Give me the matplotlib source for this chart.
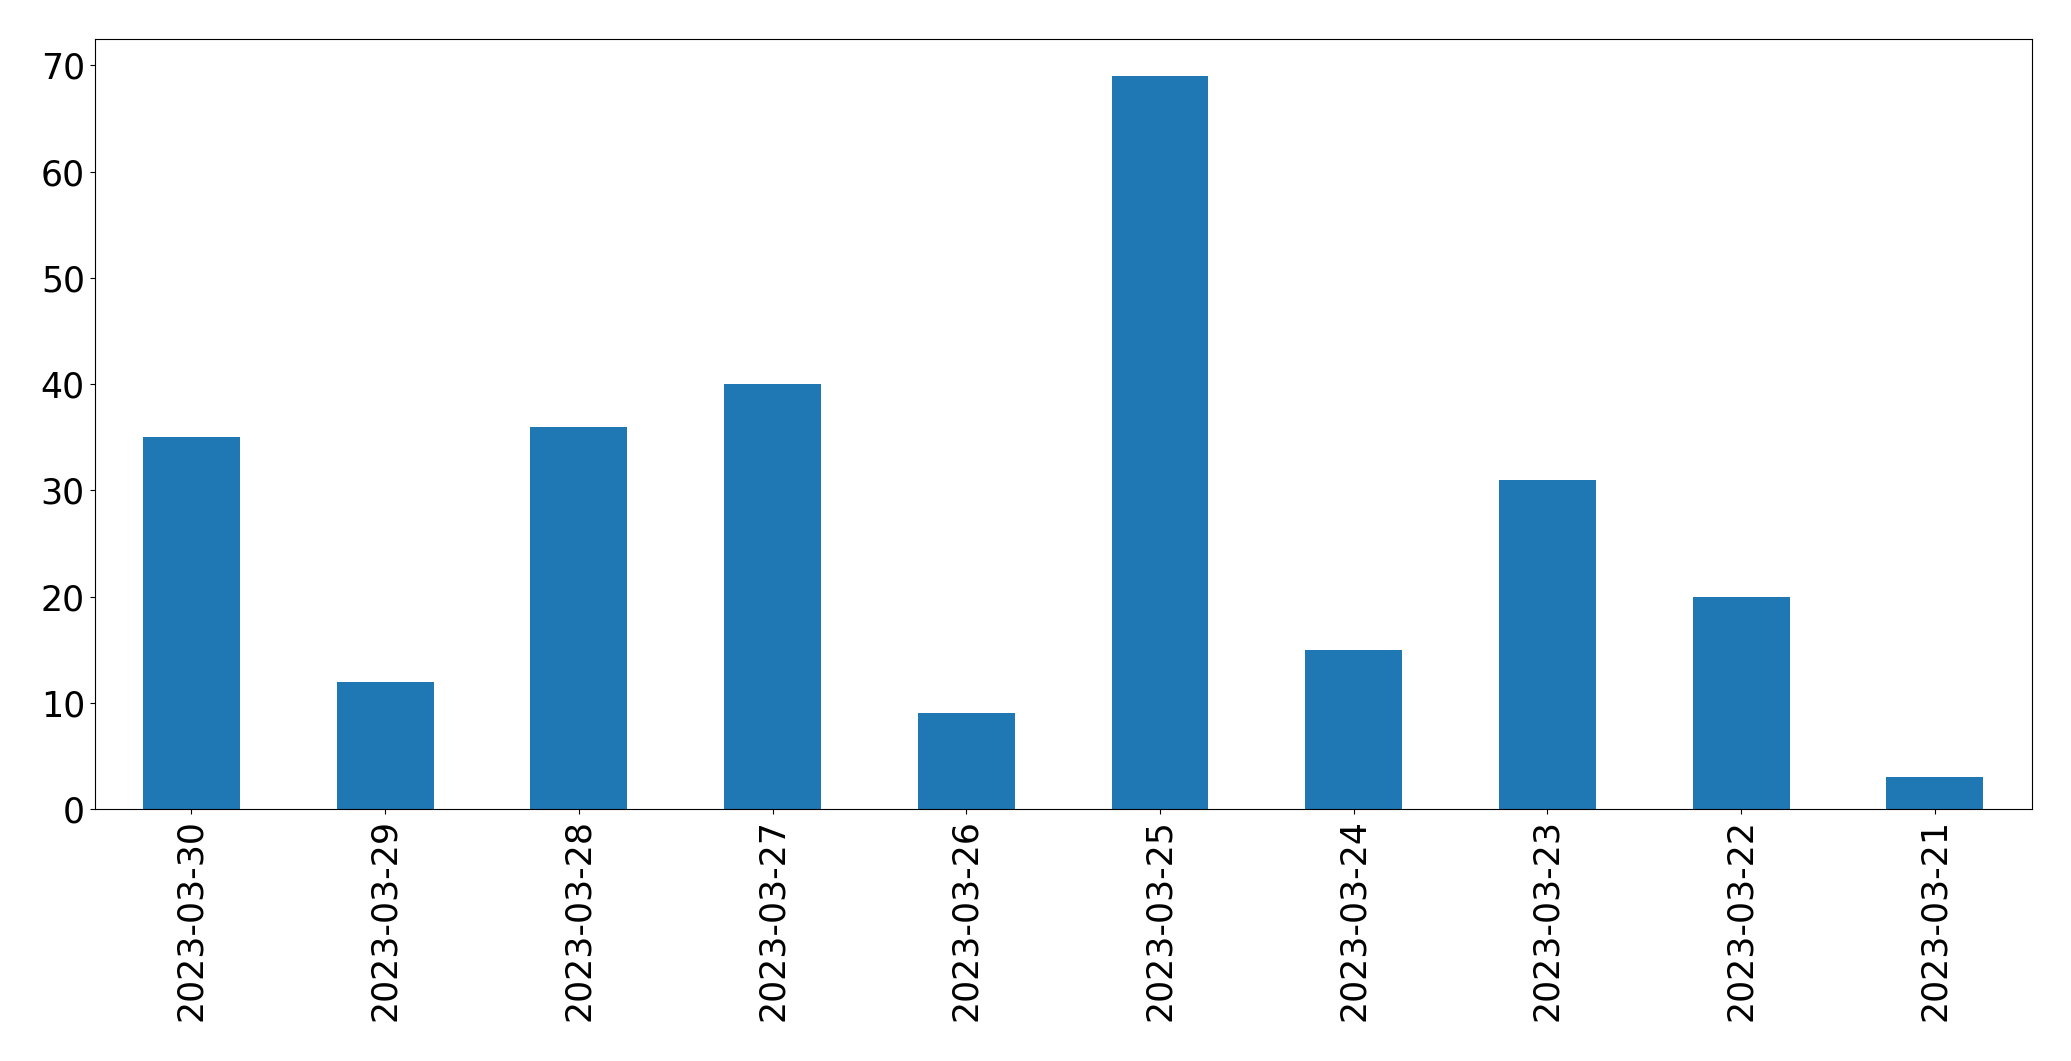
import matplotlib
matplotlib.use("Agg")
import matplotlib.pyplot as plt
import pandas as pd

# dates and counts
dates = ["2023-03-30", "2023-03-29", "2023-03-28", "2023-03-27", "2023-03-26",
         "2023-03-25", "2023-03-24", "2023-03-23", "2023-03-22", "2023-03-21"]
counts = [35, 12, 36, 40, 9, 69, 15, 31, 20, 3]

s = pd.Series(counts, index=dates)

fig, ax = plt.subplots(figsize=(20.71, 10.61), dpi=100)
s.plot(kind="bar", ax=ax, color="#1f77b4", fontsize=25)
ax.tick_params(labelsize=25)
fig.subplots_adjust(left=0.0457, right=0.981, top=0.963, bottom=0.2375)
fig.savefig("out.png", dpi=100)
